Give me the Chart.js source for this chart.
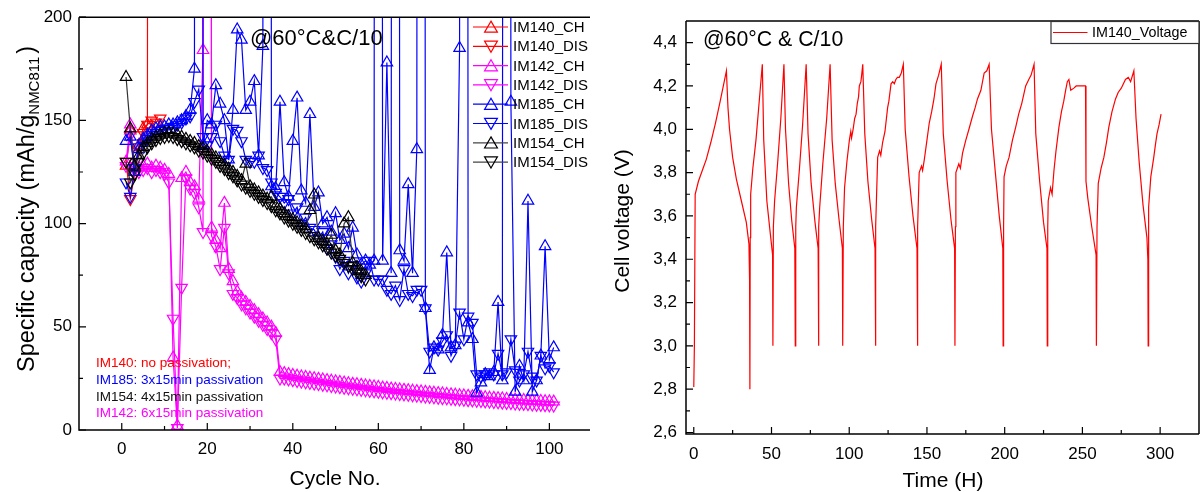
<!DOCTYPE html>
<html><head><meta charset="utf-8">
<script src="https://cdn.jsdelivr.net/npm/chart.js@4.4.1/dist/chart.umd.min.js"></script>
<style>
html,body{margin:0;padding:0;background:#fff;}
#wrap{position:relative;width:1200px;height:492px;overflow:hidden;background:#fff;}
.pane{position:absolute;top:0;width:600px;height:492px;}
</style></head><body>
<div id="wrap">
<div class="pane" style="left:0"><canvas id="c1" width="600" height="492"></canvas></div>
<div class="pane" style="left:600px"><canvas id="c2" width="600" height="492"></canvas></div>
</div>
<script>
// ---------------- data: left panel (specific capacity vs cycle) ----------------
const cycles = [1,2,3,4,5,6,7,8,9,10,11,12,13,14,15,16,17,18,19,20,21,22,23,24,25,26,27,28,29,30,
 31,32,33,34,35,36,37,38,39,40,41,42,43,44,45,46,47,48,49,50,51,52,53,54,55,56,57,58,59,60,
 61,62,63,64,65,66,67,68,69,70,71,72,73,74,75,76,77,78,79,80,81,82,83,84,85,86,87,88,89,90,
 91,92,93,94,95,96,97,98,99,100,101];

const im140Ch  = [128,145,125,138,146,148,3000];
const im140Dis = [130,112,124,136,144,148,150,149,151];

const im142Ch = [130,148,128,127,128,129,127,128,127,126,
 124,35,2,122,125,120,118,112,184,3000,
 98,92,88,110,78,72,67,64,62,60,
 58,56,54,52,50,47,28,27.5,27,26.6,
 26.2,25.9,25.6,25.3,25,24.7,24.4,24.1,23.8,23.5,
 23.2,22.9,22.6,22.3,22.1,21.8,21.5,21.3,21,20.8,
 20.5,20.3,20,19.8,19.6,19.4,19.2,19,18.8,18.6,
 18.4,18.2,18,17.8,17.6,17.4,17.2,17,16.8,16.7,
 16.5,16.3,16.1,16,15.8,15.6,15.5,15.3,15.2,15,
 14.9,14.7,14.6,14.5,14.3,14.2,14.1,14,13.9,13.8,
 13.7];
const im142Dis = [128,143,126,125,126,127,125,126,125,124,
 120,54,1,69,122,117,115,108,96,3000,
 94,89,78,98,76,66,64,61,59,57,
 55,53,51,49,47,44,25,25,24.6,24.2,
 23.8,23.5,23.2,22.9,22.6,22.3,22,21.7,21.4,21.1,
 20.8,20.5,20.3,20,19.8,19.5,19.3,19,18.8,18.6,
 18.3,18.1,17.9,17.7,17.5,17.3,17.1,16.9,16.7,16.5,
 16.3,16.1,15.9,15.7,15.5,15.4,15.2,15,14.9,14.7,
 14.5,14.4,14.2,14.1,13.9,13.8,13.6,13.5,13.3,13.2,
 13.1,12.9,12.8,12.7,12.6,12.4,12.3,12.2,12.1,12,
 11.9];

const im185Ch = [140,142,125,136,141,143,145,146,147,147,
 148,148,149,150,152,155,175,3000,138,150,
 148,167,158,150,131,155,194,189,155,159,
 169,133,186,3000,118,117,159,120,113,140,
 161,116,110,153,108,115,100,103,96,105,
 92,95,88,98,85,80,82,80,82,3000,
 82,178,76,3000,87,82,119,76,136,3000,
 59,29,40,39,46,86,40,41,185,3000,
 52,44,18,23,27,26,28,62,24,3000,
 159,18.5,31,24,111,18.5,24,36,89,34,
 40];
const im185Dis = [120,113,127,137,139,141,143,144,145,146,
 146,147,148,149,151,152,159,165,142,138,
 142,148,140,133,131,146,145,140,131,130,
 130,133,127,126,120,115,113,110,112,105,
 108,100,103,98,97,93,96,88,90,84,
 78,82,76,80,74,72,76,82,73,73,
 73,68,66,70,63,78,66,65,68,68,
 59,38,40,39,43,46,36,41,57,44,
 55,52,27,26,27,28,27,37,27,28,
 44,29,24,27,38,26,24,36,30,31,
 28];

const im154Ch = [171,146,128,133,137,139,141,142,143,144,
 144,143.5,143,142,141,140,139,137.5,136.5,135,
 133.5,132,130,128.5,126.5,125,123,121,129,118,
 116.5,115,113.5,112,113,108.5,107,105,103.5,102,
 100.5,99,97.5,106.5,114,93,91.5,90,94.5,87,
 85,100,103,81,79,77,75];
const im154Dis = [130,120,124,130,134,137,139,140.5,141.5,142,
 142.5,142,141,140,139,138,137,135.5,134.5,133,
 131.5,130,128,126.5,124.5,123,121,119,117.5,116,
 114.5,113,111.5,110,108.5,106.5,105,103,101.5,100,
 98.5,97,95.5,94,92.5,91,89.5,88,86,84.5,
 83,81,79.5,78,76.5,74.5,73];

const capTicks = [0,50,100,150,200];
const capMinor = [25,75,125,175];
const cycleTicks = [0,20,40,60,80,100];
const cycleMinor = [10,30,50,70,90];

// ---------------- data: right panel (cell voltage vs time) ----------------
const timeH = [0,0.4,0.9,3,6,8,11,14,17,21,22,23,25,27.4,30.6,33.8,35.5,35.9,36.1,
 36.3,36.6,38,40,42,44.1,45,47,48.9,50.7,50.9,
 51.2,52,54,56,58,59,61,63,65,65.3,
 65.6,66,68,70,72.3,73.5,75.5,78,80,80.2,
 80.5,81,83,85.5,87.7,89,91,93.5,95.6,95.8,
 96.2,97,98.5,100.1,101,101.5,102.5,103.5,104.4,105.2,106,106.5,107.5,108,108.7,110,112,114.5,116.6,116.8,
 117.2,118.3,119.5,120.3,121.5,123,124.7,125.5,126.9,128,129,130,131,132.2,133.5,134.8,136,138.5,141,143.6,143.8,
 144.2,145,146.5,147.2,148.3,150,151.5,153,154.5,155.8,157.5,159.2,160.5,163,165.5,167.8,168,
 168.3,168.6,170.5,171.5,172.9,175,177,179.3,181,182.5,184.7,186.8,188.5,190,191.5,194,196.5,198.8,199,
 199.3,199.6,201,202.8,205,207.1,209,211,213.5,215.5,217,218.9,220,222.5,225,227.2,227.4,
 227.7,228,229.5,230.5,231.7,233,234.9,236.5,238,239.2,240.3,241.3,242.5,244.5,246,248,250,252,252.3,253.5,256,258.8,259,
 259.4,260.2,262,263.8,265.5,267,269,271.3,273,275,277.7,279.5,281,283.1,284.5,286.5,289,291.5,292.1,292.3,
 292.5,292.7,294,295.9,297,298,299.3,300.6];
const cellVoltage = [2.81,3.0,3.70,3.76,3.82,3.86,3.94,4.03,4.13,4.27,4.10,4.00,3.87,3.77,3.67,3.57,3.47,3.30,2.80,
 3.50,3.70,3.82,3.95,4.12,4.30,3.95,3.67,3.54,3.42,3.00,
 3.55,3.67,3.85,4.05,4.30,4.00,3.75,3.58,3.45,3.00,
 3.55,3.64,3.82,4.02,4.30,3.98,3.75,3.57,3.45,3.00,
 3.55,3.64,3.84,4.05,4.30,3.95,3.75,3.58,3.45,3.00,
 3.55,3.73,3.85,3.95,3.99,3.96,4.00,4.05,4.07,4.12,4.15,4.20,4.22,4.25,4.30,3.98,3.76,3.58,3.45,3.00,
 3.55,3.87,3.90,3.88,3.94,3.99,4.10,4.13,4.21,4.22,4.21,4.23,4.24,4.24,4.26,4.30,4.00,3.78,3.60,3.45,3.00,
 3.55,3.80,3.83,3.81,3.86,3.95,4.03,4.08,4.14,4.21,4.25,4.30,3.98,3.76,3.58,3.45,3.00,
 3.55,3.80,3.84,3.82,3.89,3.95,4.00,4.06,4.10,4.14,4.18,4.26,4.27,4.30,4.00,3.80,3.60,3.45,3.00,
 3.55,3.78,3.83,3.87,3.95,4.01,4.07,4.12,4.20,4.23,4.25,4.30,3.98,3.76,3.57,3.45,3.00,
 3.55,3.67,3.73,3.70,3.81,3.90,4.01,4.08,4.13,4.18,4.22,4.23,4.18,4.19,4.20,4.20,4.20,4.20,3.76,3.68,3.55,3.42,3.00,
 3.55,3.75,3.82,3.87,3.94,4.01,4.08,4.14,4.17,4.19,4.23,4.24,4.22,4.27,4.05,3.85,3.65,3.50,3.40,3.00,
 3.55,3.64,3.78,3.87,3.93,3.98,4.02,4.07];

const voltTicks = [2.6,2.8,3.0,3.2,3.4,3.6,3.8,4.0,4.2,4.4];
const voltTickLabels = ['2,6','2,8','3,0','3,2','3,4','3,6','3,8','4,0','4,2','4,4'];
const voltMinor = [2.7,2.9,3.1,3.3,3.5,3.7,3.9,4.1,4.3];
const timeTicks = [0,50,100,150,200,250,300];
const timeMinor = [25,75,125,175,225,275];

// ---------------- helpers ----------------
const FONT = "'Liberation Sans', Arial, Helvetica, sans-serif";
const RED = '#ff0000', MAG = '#ff00ff', BLUE = '#0000ff', BLK = '#000000';

function pts(arr){ return arr.map((v,i)=>({x:cycles[i], y:v})); }

function ds(label, arr, color, lineColor, down, order){
  return {
    label, data: pts(arr), borderColor: lineColor, backgroundColor: 'rgba(0,0,0,0)',
    borderWidth: 1.2, pointStyle: 'triangle', pointRotation: down ? 180 : 0,
    pointRadius: 6.6, pointHoverRadius: 6.6, pointBorderWidth: 1.2,
    pointBorderColor: color, pointBackgroundColor: 'rgba(0,0,0,0)',
    tension: 0, fill: false, order
  };
}

function tri(ctx, x, y, r, down){
  const s = down ? -1 : 1;
  ctx.beginPath();
  ctx.moveTo(x, y - s*r);
  ctx.lineTo(x + 0.866*r, y + s*0.5*r);
  ctx.lineTo(x - 0.866*r, y + s*0.5*r);
  ctx.closePath();
  ctx.stroke();
}

function frameAndTicks(chart, cfg){
  const ctx = chart.ctx, ca = chart.chartArea, xs = chart.scales.x, ys = chart.scales.y;
  ctx.save();
  ctx.strokeStyle = '#000';
  ctx.lineWidth = 1.5;
  ctx.beginPath();
  ctx.moveTo(ca.left, ca.top); ctx.lineTo(ca.right, ca.top);
  ctx.moveTo(ca.left, ca.top); ctx.lineTo(ca.left, ca.bottom); ctx.lineTo(ca.right, ca.bottom);
  if (cfg.rightBorder){ ctx.moveTo(ca.right, ca.top); ctx.lineTo(ca.right, ca.bottom); }
  ctx.stroke();
  ctx.lineWidth = 1.2;
  ctx.beginPath();
  cfg.xMajor.forEach(v=>{ const p = xs.getPixelForValue(v); ctx.moveTo(p, ca.bottom); ctx.lineTo(p, ca.bottom-7); });
  cfg.xMinor.forEach(v=>{ const p = xs.getPixelForValue(v); ctx.moveTo(p, ca.bottom); ctx.lineTo(p, ca.bottom-4); });
  cfg.yMajor.forEach(v=>{ const p = ys.getPixelForValue(v); ctx.moveTo(ca.left, p); ctx.lineTo(ca.left+7, p); });
  cfg.yMinor.forEach(v=>{ const p = ys.getPixelForValue(v); ctx.moveTo(ca.left, p); ctx.lineTo(ca.left+4, p); });
  ctx.stroke();
  ctx.restore();
}

// ---------------- left chart ----------------
const leftLegend = [
  ['IM140_CH', RED, RED, false], ['IM140_DIS', RED, RED, true],
  ['IM142_CH', MAG, MAG, false], ['IM142_DIS', MAG, MAG, true],
  ['IM185_CH', BLUE, BLUE, false], ['IM185_DIS', BLUE, BLUE, true],
  ['IM154_CH', BLK, '#444', false], ['IM154_DIS', BLK, '#444', true]
];
const notes = [
  ['IM140: no passivation;', RED],
  ['IM185: 3x15min passivation', BLUE],
  ['IM154: 4x15min passivation', '#111'],
  ['IM142: 6x15min passivation', MAG]
];

const leftDecor = {
  id: 'leftDecor',
  afterDraw(chart){
    frameAndTicks(chart, {xMajor: cycleTicks, xMinor: cycleMinor, yMajor: capTicks, yMinor: capMinor, rightBorder: false});
    const ctx = chart.ctx;
    ctx.save();
    // legend
    ctx.font = '15px ' + FONT;
    ctx.textBaseline = 'middle';
    ctx.textAlign = 'left';
    leftLegend.forEach((it, i)=>{
      const y = 27 + i*19.3;
      ctx.strokeStyle = it[2]; ctx.lineWidth = 1.2;
      ctx.beginPath(); ctx.moveTo(473, y); ctx.lineTo(508, y); ctx.stroke();
      ctx.strokeStyle = it[1];
      tri(ctx, 491, y + (it[3] ? -1.5 : 1.5), 7.4, it[3]);
      ctx.fillStyle = '#000';
      ctx.fillText(it[0], 513, y + 1);
    });
    // annotation
    ctx.font = '22px ' + FONT;
    ctx.fillStyle = '#000';
    ctx.fillText('@60°C&C/10', 250, 39);
    // passivation notes
    ctx.font = '13.5px ' + FONT;
    notes.forEach((n, i)=>{
      ctx.fillStyle = n[1];
      ctx.fillText(n[0], 96, 363.5 + i*16.7);
    });
    // axis titles
    ctx.fillStyle = '#000';
    ctx.font = '21px ' + FONT;
    ctx.textAlign = 'center';
    ctx.fillText('Cycle No.', 335, 479);
    // y title with subscript
    ctx.translate(34, 0);
    ctx.rotate(-Math.PI/2);
    ctx.textAlign = 'left';
    ctx.textBaseline = 'alphabetic';
    const main = 'Specific capacity (mAh/g';
    const sub = 'NMC811';
    ctx.font = '23.5px ' + FONT;
    const w1 = ctx.measureText(main).width;
    ctx.font = '15px ' + FONT;
    const w2 = ctx.measureText(sub).width;
    const start = -372;
    ctx.font = '23.5px ' + FONT;
    ctx.fillText(main, start, 0);
    ctx.font = '15px ' + FONT;
    ctx.fillText(sub, start + w1, 5);
    ctx.font = '23.5px ' + FONT;
    ctx.fillText(')', start + w1 + w2 + 3, 0);
    ctx.restore();
  }
};

new Chart(document.getElementById('c1'), {
  type: 'line',
  data: { datasets: [
    ds('IM140_CH', im140Ch, RED, RED, false, 8),
    ds('IM140_DIS', im140Dis, RED, RED, true, 7),
    ds('IM142_CH', im142Ch, MAG, MAG, false, 6),
    ds('IM142_DIS', im142Dis, MAG, MAG, true, 5),
    ds('IM185_CH', im185Ch, BLUE, BLUE, false, 4),
    ds('IM185_DIS', im185Dis, BLUE, BLUE, true, 3),
    ds('IM154_CH', im154Ch, BLK, '#333', false, 2),
    ds('IM154_DIS', im154Dis, BLK, '#333', true, 1)
  ]},
  options: {
    responsive: false, animation: false, devicePixelRatio: 1,
    layout: { padding: { top: 17, right: 10, left: 0, bottom: 0 } },
    plugins: { legend: { display: false }, tooltip: { enabled: false } },
    scales: {
      x: { type: 'linear', min: -10, max: 109.5,
        grid: { display: false, drawTicks: false }, border: { display: false },
        afterBuildTicks: s => { s.ticks = cycleTicks.map(v => ({ value: v })); },
        afterFit: s => { s.height = 62; },
        ticks: { padding: 9, color: '#000', font: { family: FONT, size: 17 }, maxRotation: 0, autoSkip: false } },
      y: { type: 'linear', min: 0, max: 200,
        grid: { display: false, drawTicks: false }, border: { display: false },
        afterBuildTicks: s => { s.ticks = capTicks.map(v => ({ value: v })); },
        afterFit: s => { s.width = 79; },
        ticks: { padding: 7, color: '#000', font: { family: FONT, size: 17 }, autoSkip: false } }
    }
  },
  plugins: [leftDecor]
});

// ---------------- right chart ----------------
const rightDecor = {
  id: 'rightDecor',
  afterDraw(chart){
    frameAndTicks(chart, {xMajor: timeTicks, xMinor: timeMinor, yMajor: voltTicks, yMinor: voltMinor, rightBorder: true});
    const ctx = chart.ctx;
    ctx.save();
    // legend box
    ctx.fillStyle = '#fff';
    ctx.fillRect(451, 21.5, 148, 22);
    ctx.strokeStyle = '#333'; ctx.lineWidth = 1.2;
    ctx.strokeRect(451, 21.5, 148, 22);
    ctx.strokeStyle = RED; ctx.lineWidth = 1.2;
    ctx.beginPath(); ctx.moveTo(453, 32.5); ctx.lineTo(487.5, 32.5); ctx.stroke();
    ctx.fillStyle = '#000';
    ctx.font = '14.3px ' + FONT;
    ctx.textBaseline = 'middle'; ctx.textAlign = 'left';
    ctx.fillText('IM140_Voltage', 492, 33);
    ctx.font = '21.3px ' + FONT;
    ctx.fillText('@60°C & C/10', 103, 40);
    ctx.textAlign = 'center';
    ctx.font = '21px ' + FONT;
    ctx.fillText('Time (H)', 343, 481);
    ctx.translate(23, 221);
    ctx.rotate(-Math.PI/2);
    ctx.fillText('Cell voltage (V)', 0, 0);
    ctx.restore();
  }
};

new Chart(document.getElementById('c2'), {
  type: 'line',
  data: { datasets: [{
    label: 'IM140_Voltage',
    data: timeH.map((t, i) => ({ x: t, y: cellVoltage[i] })),
    borderColor: RED, borderWidth: 1.2, pointRadius: 0, tension: 0, fill: false
  }]},
  options: {
    responsive: false, animation: false, devicePixelRatio: 1,
    layout: { padding: { top: 21, right: 1, left: 0, bottom: 0 } },
    plugins: { legend: { display: false }, tooltip: { enabled: false } },
    scales: {
      x: { type: 'linear', min: -5, max: 325,
        grid: { display: false, drawTicks: false }, border: { display: false },
        afterBuildTicks: s => { s.ticks = timeTicks.map(v => ({ value: v })); },
        afterFit: s => { s.height = 58; },
        ticks: { padding: 10, color: '#000', font: { family: FONT, size: 17 }, maxRotation: 0, autoSkip: false } },
      y: { type: 'linear', min: 2.593, max: 4.5,
        grid: { display: false, drawTicks: false }, border: { display: false },
        afterBuildTicks: s => { s.ticks = voltTicks.map(v => ({ value: v })); },
        afterFit: s => { s.width = 86; },
        ticks: { padding: 9, color: '#000', font: { family: FONT, size: 17 }, autoSkip: false,
          callback: v => voltTickLabels[voltTicks.findIndex(t => Math.abs(t - v) < 1e-6)] } }
    }
  },
  plugins: [rightDecor]
});
</script>
</body></html>
